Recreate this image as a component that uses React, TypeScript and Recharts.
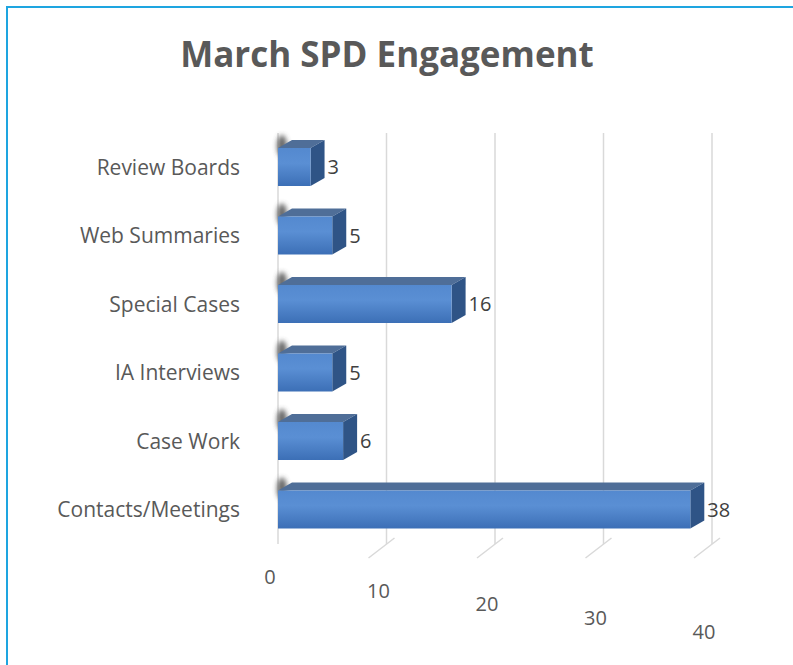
import React from 'react';
import { BarChart, Bar, XAxis, YAxis, CartesianGrid, LabelList } from 'recharts';

const title = 'March SPD Engagement';
const categories = ['Review Boards', 'Web Summaries', 'Special Cases', 'IA Interviews', 'Case Work', 'Contacts/Meetings'];
const values = [3, 5, 16, 5, 6, 38];
const xTicks = [0, 10, 20, 30, 40];

const data = categories.map((name, i) => ({ name, value: values[i] }));

const DX = 14;
const DY = 8;

const Bar3D = (props: any) => {
  const { x, y, width, height } = props;
  if (width == null || height == null) return null;
  return (
    <g>
      <ellipse cx={x + 4} cy={y - 2} rx={5} ry={11} fill="#444" filter="url(#blurShadow)" opacity={0.8} />
      <polygon
        points={`${x},${y} ${x + width},${y} ${x + width + DX},${y - DY} ${x + DX},${y - DY}`}
        fill="#4f6e98"
      />
      <polygon
        points={`${x + width},${y} ${x + width + DX},${y - DY} ${x + width + DX},${y + height - DY} ${x + width},${y + height}`}
        fill="#2f5486"
      />
      <rect x={x} y={y} width={width} height={height} fill="url(#frontGrad)" />
    </g>
  );
};

const XTick = (props: any) => {
  const { x, y, payload } = props;
  const v = payload.value as number;
  return (
    <g>
      {v > 0 && (
        <line x1={x + 8} y1={y - 6} x2={x - 18} y2={y + 14} stroke="#d9d9d9" strokeWidth={1.5} />
      )}
      <text x={x - 8} y={y + 40 + v * 1.37} textAnchor="middle" fill="#595959" fontSize={20} fontFamily="'Open Sans', sans-serif">
        {v}
      </text>
    </g>
  );
};

export default function App() {
  return (
    <div style={{ position: 'absolute', left: 0, top: 0, width: 793, height: 665, background: '#fff', overflow: 'hidden' }}>
      <div
        style={{
          position: 'absolute',
          left: 6,
          top: 6,
          width: 800,
          height: 700,
          borderLeft: '2px solid #1ea5e0',
          borderTop: '2px solid #1ea5e0',
        }}
      />
      <div
        style={{
          position: 'absolute',
          left: 0,
          top: 30,
          width: 774,
          textAlign: 'center',
          fontFamily: "'Open Sans', sans-serif",
          fontWeight: 700,
          fontSize: 35,
          color: '#595959',
        }}
      >
        {title}
      </div>
      <div style={{ position: 'absolute', left: 0, top: 0 }}>
        <BarChart
          width={793}
          height={665}
          data={data}
          layout="vertical"
          margin={{ top: 133, right: 81, bottom: 81, left: 0 }}
          barSize={38}
        >
          <defs>
            <linearGradient id="frontGrad" x1="0" y1="0" x2="0" y2="1">
              <stop offset="0%" stopColor="#5489cf" />
              <stop offset="40%" stopColor="#5a8fd4" />
              <stop offset="100%" stopColor="#3c6fb6" />
            </linearGradient>
            <filter id="blurShadow" x="-100%" y="-100%" width="300%" height="300%">
              <feGaussianBlur stdDeviation="2.5" />
            </filter>
          </defs>
          <CartesianGrid horizontal={false} vertical stroke="#d9d9d9" strokeWidth={1.5} />
          <XAxis
            type="number"
            domain={[0, 40]}
            ticks={xTicks}
            axisLine={false}
            tickLine={false}
            tickSize={0}
            tickMargin={0}
            height={40}
            tick={<XTick />}
            interval={0}
          />
          <YAxis
            type="category"
            dataKey="name"
            width={278}
            axisLine={false}
            tickLine={false}
            tickSize={0}
            tickMargin={38}
            tick={{ fill: '#595959', fontSize: 21, fontFamily: "'Open Sans', sans-serif" }}
            interval={0}
          />
          <Bar dataKey="value" shape={<Bar3D />} isAnimationActive={false}>
            <LabelList
              dataKey="value"
              position="right"
              offset={DX + 3}
              fill="#404040"
              fontSize={20}
              fontFamily="'Open Sans', sans-serif"
            />
          </Bar>
        </BarChart>
      </div>
    </div>
  );
}
